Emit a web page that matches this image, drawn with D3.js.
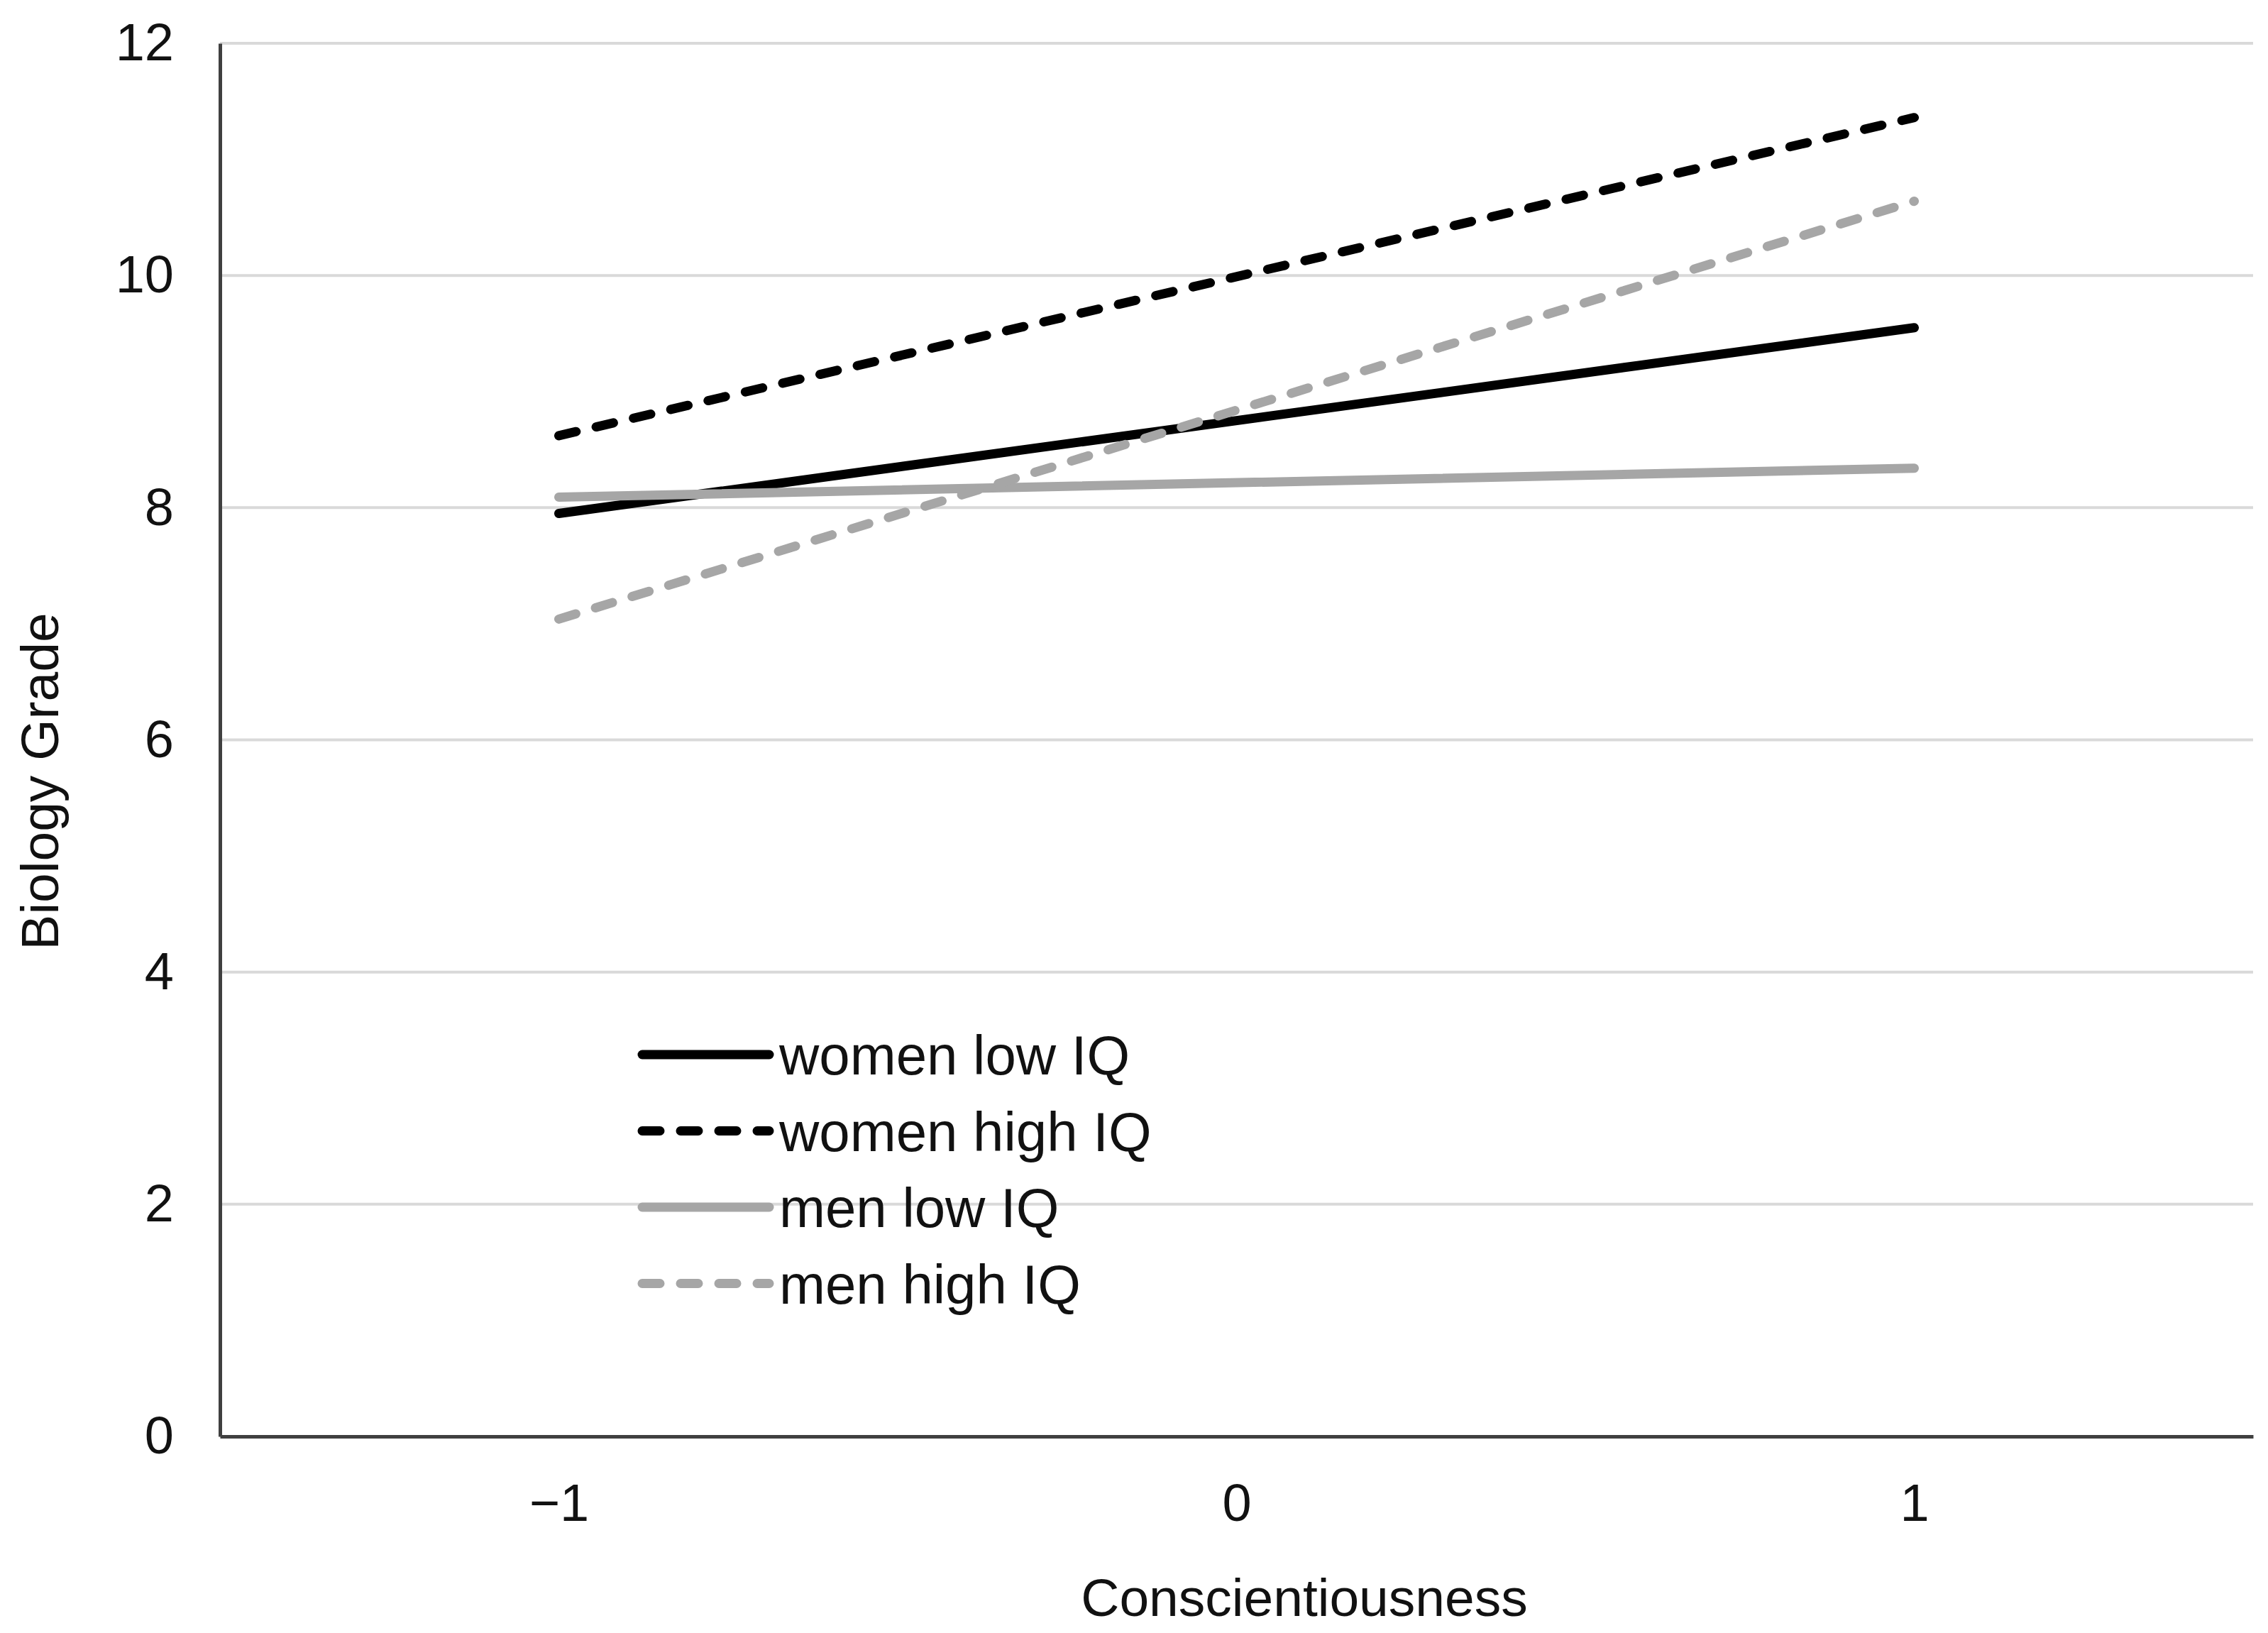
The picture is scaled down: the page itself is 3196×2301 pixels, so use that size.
<!DOCTYPE html>
<html>
<head>
<meta charset="utf-8">
<script src="https://cdn.jsdelivr.net/npm/d3@7"></script>
<style>
  html, body { margin: 0; padding: 0; background: #fff; overflow: hidden; }
  svg { display: block; }
  text { font-family: "Liberation Sans", Arial, sans-serif; }
</style>
</head>
<body>
<div id="plot"></div>
<script>
// data
const xValues = [-1, 1];
const seriesNames = ["women low IQ", "women high IQ", "men low IQ", "men high IQ"];
const womenLow = [7.95, 9.55];
const womenHigh = [8.62, 11.36];
const menLow = [8.09, 8.34];
const menHigh = [7.04, 10.64];
const xTicks = [-1, 0, 1];
const yTicks = [0, 2, 4, 6, 8, 10, 12];

const w = 3196;
const h = 2301;
const margin = {top: 61, right: 21, bottom: 277, left: 310};
const innerWidth = w - margin.left - margin.right;
const innerHeight = h - margin.top - margin.bottom;

const series = [
  {name: seriesNames[0], values: womenLow, color: "#000000", dash: null},
  {name: seriesNames[1], values: womenHigh, color: "#000000", dash: "25,29"},
  {name: seriesNames[2], values: menLow, color: "#a6a6a6", dash: null},
  {name: seriesNames[3], values: menHigh, color: "#a6a6a6", dash: "25,29"}
];

const xScale = d3.scaleLinear()
    .domain([-1.5, 1.5])
    .range([0, innerWidth]);

const yScale = d3.scaleLinear()
    .domain([0, 12])
    .range([innerHeight, 0]);

const svg = d3.select("#plot")
  .append("svg")
    .attr("width", w)
    .attr("height", h);

svg.append("rect")
    .attr("width", w)
    .attr("height", h)
    .attr("fill", "#ffffff");

const g = svg.append("g")
    .attr("transform", `translate(${margin.left}, ${margin.top})`);

// gridlines
g.append("g")
  .selectAll("line")
  .data(yTicks.filter(d => d > 0))
  .join("line")
    .attr("x1", 0)
    .attr("x2", innerWidth)
    .attr("y1", d => yScale(d))
    .attr("y2", d => yScale(d))
    .attr("stroke", "#d9d9d9")
    .attr("stroke-width", 4);

// axes
const xAxis = d3.axisBottom(xScale)
    .tickValues(xTicks)
    .tickSize(0)
    .tickPadding(66)
    .tickFormat(d3.format("d"));

const yAxis = d3.axisLeft(yScale)
    .tickValues(yTicks)
    .tickSize(0)
    .tickPadding(65);

const gx = g.append("g")
    .attr("transform", `translate(0, ${innerHeight})`)
    .call(xAxis);

const gy = g.append("g")
    .call(yAxis);

[gx, gy].forEach(a => {
  a.attr("font-size", 74)
   .attr("font-family", '"Liberation Sans", Arial, sans-serif');
  a.select(".domain").attr("stroke", "#404040").attr("stroke-width", 5);
  a.selectAll("text").attr("fill", "#111");
});

// lines
const line = d3.line()
    .x((d, i) => xScale(xValues[i]))
    .y(d => yScale(d));

g.selectAll(".series")
  .data(series)
  .join("path")
    .attr("class", "series")
    .attr("d", d => line(d.values))
    .attr("fill", "none")
    .attr("stroke", d => d.color)
    .attr("stroke-width", 13)
    .attr("stroke-linecap", "round")
    .attr("stroke-dasharray", d => d.dash);

// legend
const legend = svg.append("g")
    .attr("transform", "translate(905, 1486)");

const item = legend.selectAll("g")
  .data(series)
  .join("g")
    .attr("transform", (d, i) => `translate(0, ${i * 107.5})`);

item.append("line")
    .attr("x1", 0)
    .attr("x2", 179)
    .attr("stroke", d => d.color)
    .attr("stroke-width", 13)
    .attr("stroke-linecap", "round")
    .attr("stroke-dasharray", d => d.dash);

item.append("text")
    .attr("x", 193)
    .attr("dy", "0.36em")
    .attr("fill", "#111")
    .attr("font-size", 78)
    .text(d => d.name);

// axis titles
svg.append("text")
    .attr("x", 1838)
    .attr("y", 2277)
    .attr("text-anchor", "middle")
    .attr("fill", "#111")
    .attr("font-size", 75)
    .text("Conscientiousness");

svg.append("text")
    .attr("transform", "translate(82, 1101) rotate(-90)")
    .attr("text-anchor", "middle")
    .attr("fill", "#111")
    .attr("font-size", 75)
    .text("Biology Grade");
</script>
</body>
</html>
